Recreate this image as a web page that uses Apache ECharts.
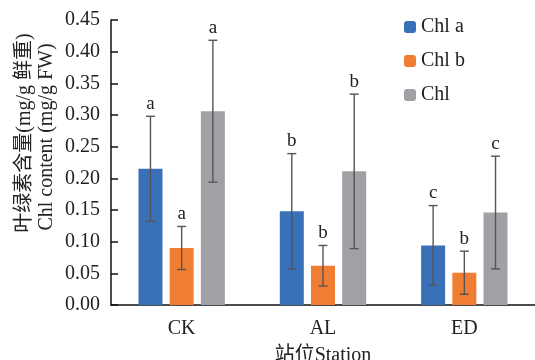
<!DOCTYPE html>
<html><head><meta charset="utf-8">
<script src="https://cdn.jsdelivr.net/npm/echarts@6/dist/echarts.min.js"></script>
<style>html,body{margin:0;padding:0;background:#fff}#c{width:535px;height:360px}</style>
</head><body><div id="c"></div>
<script>
var categories = ['CK', 'AL', 'ED'];
var seriesNames = ['Chl a', 'Chl b', 'Chl'];
var chlA = [0.215, 0.148, 0.094];
var chlB = [0.090, 0.062, 0.051];
var chl = [0.306, 0.211, 0.146];
var chlAErr = [0.083, 0.091, 0.063];
var chlBErr = [0.034, 0.032, 0.034];
var chlErr = [0.112, 0.122, 0.089];
var chlALetters = ['a', 'b', 'c'];
var chlBLetters = ['a', 'b', 'b'];
var chlLetters = ['a', 'b', 'c'];
var yTicks = [0, 0.05, 0.10, 0.15, 0.20, 0.25, 0.30, 0.35, 0.40, 0.45];

var colors = ['#3A70B8', '#F07D31', '#A0A1A4'];
var FONT = "'Liberation Serif', 'Noto Sans CJK SC', serif";
var BAR_W = 24, BAR_GAP = 7.2;

var means = [chlA, chlB, chl];
var errs = [chlAErr, chlBErr, chlErr];
var letters = [chlALetters, chlBLetters, chlLetters];

var series = [];
means.forEach(function (m, i) {
  series.push({
    name: seriesNames[i], type: 'bar', data: m,
    barWidth: BAR_W, barGap: (BAR_GAP / BAR_W * 100) + '%',
    itemStyle: { color: colors[i] }
  });
});
means.forEach(function (m, i) {
  var off = (i - 1) * (BAR_W + BAR_GAP);
  series.push({
    type: 'custom', silent: true, z: 5,
    encode: { x: 0, y: 1 },
    data: m.map(function (v, k) { return [k, v, errs[i][k]]; }),
    renderItem: function (params, api) {
      var k = api.value(0), v = api.value(1), e = api.value(2);
      var c = api.coord([k, v]);
      var x = c[0] + off;
      var top = api.coord([k, v + e])[1];
      var bot = api.coord([k, v - e])[1];
      var st = { stroke: '#555', lineWidth: 1.4 };
      return {
        type: 'group', children: [
          { type: 'line', shape: { x1: x, y1: top, x2: x, y2: bot }, style: st },
          { type: 'line', shape: { x1: x - 4.5, y1: top, x2: x + 4.5, y2: top }, style: st },
          { type: 'line', shape: { x1: x - 4.5, y1: bot, x2: x + 4.5, y2: bot }, style: st },
          { type: 'text', x: x, y: top - 3, style: { text: letters[i][params.dataIndex], fill: '#222', font: '19px ' + FONT, align: 'center', verticalAlign: 'bottom' } }
        ]
      };
    }
  });
});

var chart = echarts.init(document.getElementById('c'));
chart.setOption({
  animation: false,
  grid: { left: 111, right: 0, top: 20, bottom: 55, outerBoundsMode: 'none', containLabel: false },
  legend: {
    data: seriesNames, orient: 'vertical', left: 399, top: 12,
    itemWidth: 12, itemHeight: 12, itemGap: 14,
    textStyle: { fontFamily: FONT, fontSize: 20, color: '#222' }
  },
  xAxis: {
    type: 'category', data: categories,
    axisLine: { lineStyle: { color: '#111', width: 1.5 } },
    axisTick: { inside: true, length: 7, lineStyle: { color: '#111', width: 1.5 } },
    axisLabel: { fontFamily: FONT, fontSize: 20, color: '#222', margin: 14 },
    name: '站位Station', nameLocation: 'middle', nameGap: 41,
    nameTextStyle: { fontFamily: FONT, fontSize: 20, color: '#222' }
  },
  yAxis: {
    type: 'value', min: 0, max: 0.45, interval: 0.05,
    splitLine: { show: false },
    axisLine: { show: true, lineStyle: { color: '#111', width: 1.5 } },
    axisTick: { show: true, inside: true, length: 7, lineStyle: { color: '#111', width: 1.5 } },
    axisLabel: { fontFamily: FONT, fontSize: 20, color: '#222', margin: 11,
      formatter: function (v) { return v.toFixed(2); } }
  },
  graphic: [
    { type: 'text', x: 25, y: 133, rotation: Math.PI / 2,
      style: { text: '叶绿素含量(mg/g 鲜重)', font: '20px ' + FONT, fill: '#222', align: 'center', verticalAlign: 'middle' } },
    { type: 'text', x: 47, y: 137, rotation: Math.PI / 2,
      style: { text: 'Chl content (mg/g FW)', font: '20px ' + FONT, fill: '#222', align: 'center', verticalAlign: 'middle' } }
  ],
  series: series
});
</script></body></html>
